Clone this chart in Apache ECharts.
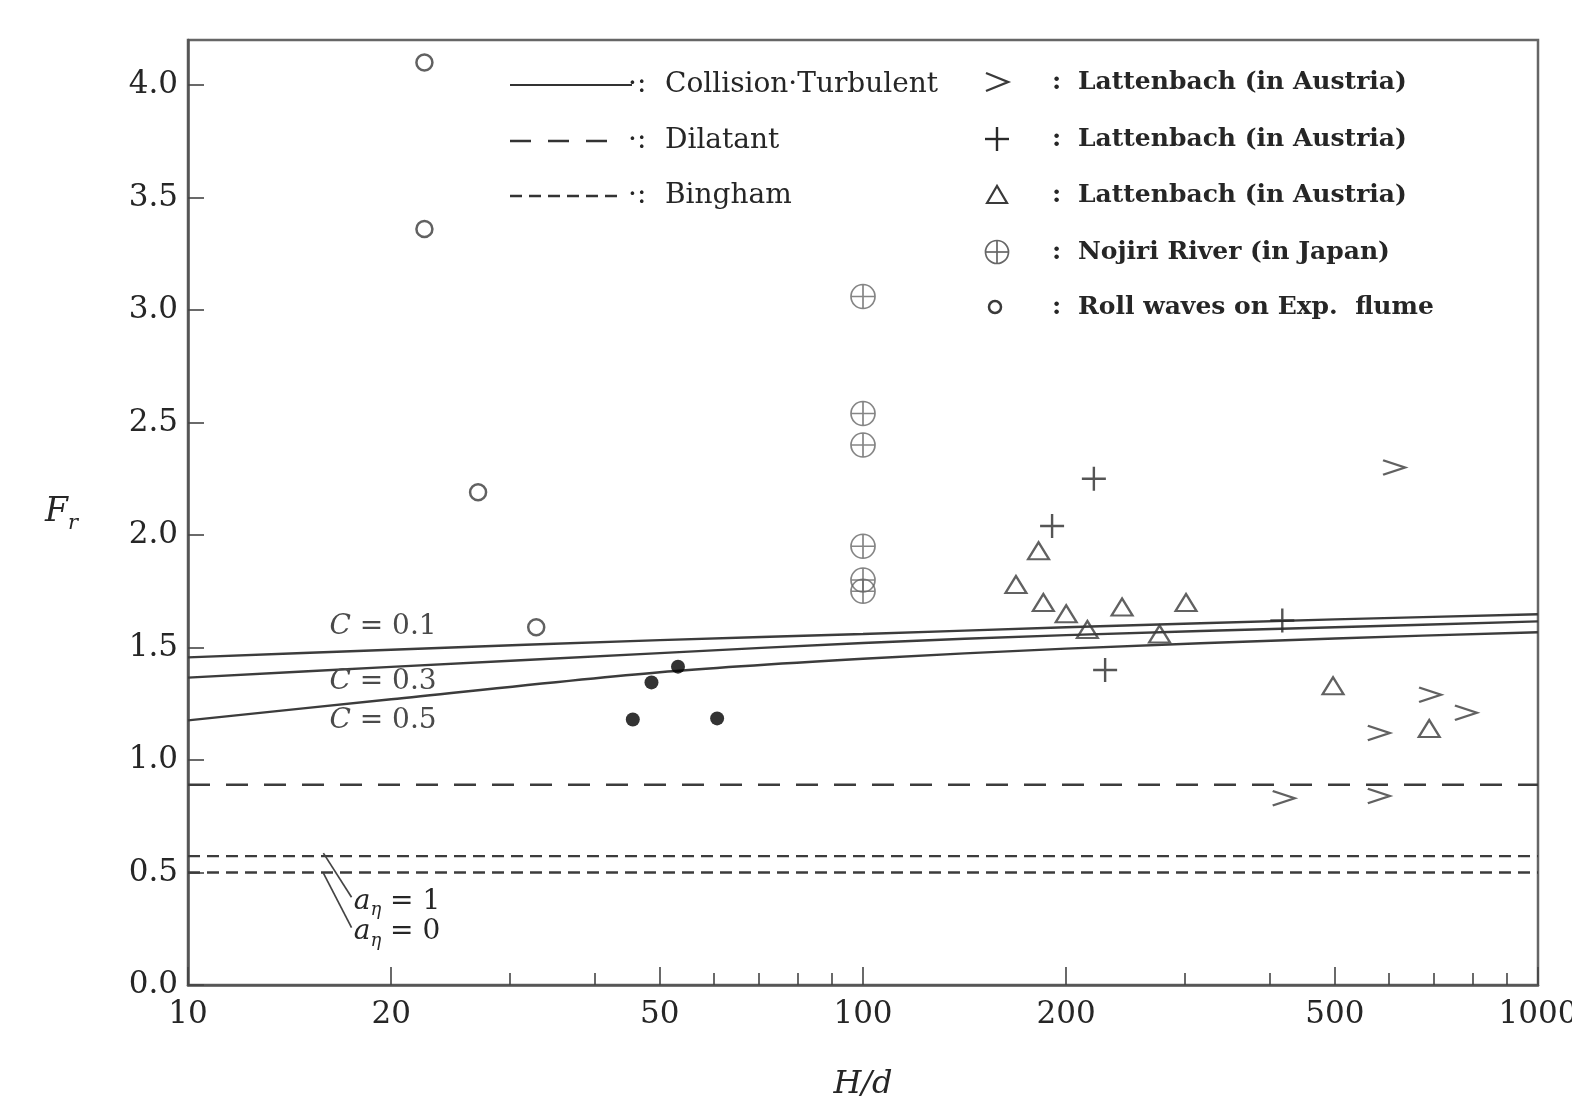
<!DOCTYPE html>
<html><head><meta charset="utf-8">
<script src="https://cdn.jsdelivr.net/npm/echarts@6/dist/echarts.min.js"></script>
<style>html,body{margin:0;padding:0;background:#fff}#c{width:1572px;height:1106px}</style>
</head><body><div id="c"></div>
<script>
// ---- data ----
const curveX = [10, 20, 50, 100, 200, 500, 1000];
const curveC01 = [1.456, 1.49, 1.533, 1.56, 1.59, 1.625, 1.648];
const curveC03 = [1.366, 1.414, 1.475, 1.52, 1.555, 1.59, 1.616];
const curveC05 = [1.176, 1.27, 1.39, 1.45, 1.495, 1.54, 1.568];
const lineX = [10, 1000];
const dilatantY = 0.89;
const binghamY1 = 0.573;   // a_eta = 1
const binghamY0 = 0.50;    // a_eta = 0

const gtX = [612, 692, 782, 581, 420, 581];
const gtY = [2.30, 1.29, 1.21, 1.12, 0.83, 0.84];
const plusX = [219.8, 190.6, 228.4, 418];
const plusY = [2.25, 2.04, 1.40, 1.62];
const triX = [182, 168.5, 185, 200, 215, 242, 275, 301, 497, 690];
const triY = [1.93, 1.78, 1.70, 1.65, 1.58, 1.68, 1.56, 1.70, 1.33, 1.14];
const nojiriX = [100, 100, 100, 100, 100, 100];
const nojiriY = [3.06, 2.54, 2.40, 1.95, 1.80, 1.75];
const rollX = [22.4, 22.4, 26.9, 32.8];
const rollY = [4.10, 3.36, 2.19, 1.59];
const dotX = [45.6, 48.6, 53.2, 60.8];
const dotY = [1.18, 1.345, 1.415, 1.185];

const xLabelTicks = [10, 20, 50, 100, 200, 500, 1000];
const xMinorTicks = [30, 40, 60, 70, 80, 90, 300, 400, 600, 700, 800, 900];
const yTicks = [0, 0.5, 1, 1.5, 2, 2.5, 3, 3.5, 4];

const legendLineNames = ['Collision·Turbulent', 'Dilatant', 'Bingham'];
const legendMarkNames = ['Lattenbach (in Austria)', 'Lattenbach (in Austria)', 'Lattenbach (in Austria)', 'Nojiri River (in Japan)', 'Roll waves on Exp.  flume'];

// ---- helpers ----
const zip = (xs, ys) => xs.map((x, i) => [x, ys[i]]);
const FONT = 'DejaVu Serif';
const INK = '#262626';
const gtPath = 'path://M0,0 L20,8 L0,16';
const plusPath = 'path://M10,0 L10,20 M0,10 L20,10';
const oplusPath = 'path://M0,10 A10,10 0 1,1 20,10 A10,10 0 1,1 0,10 Z M10,0 L10,20 M0,10 L20,10';

const grid = {left: 188, right: 34, top: 40, bottom: 121};

const chart = echarts.init(document.getElementById('c'), null, {renderer: 'canvas'});

const lineSeries = (name, data, style, extra) => Object.assign({
  type: 'line', name, data, showSymbol: false, symbol: 'none', silent: true,
  lineStyle: Object.assign({color: '#3c3c3c', width: 2.4}, style), z: 2, animation: false
}, extra || {});

const scatter = (name, data, symbol, size, item, z) => ({
  type: 'scatter', name, data, symbol, symbolSize: size, symbolKeepAspect: true,
  itemStyle: item, z: z || 5, animation: false
});
const hollow = (c, w) => ({color: 'rgba(0,0,0,0)', borderColor: c, borderWidth: w});

const option = {
  backgroundColor: '#fff',
  animation: false,
  grid: [
    Object.assign({show: true, borderColor: '#666', borderWidth: 2.5, backgroundColor: 'rgba(0,0,0,0)', outerBoundsMode: 'none'}, grid),
    Object.assign({show: false, outerBoundsMode: 'none'}, grid)
  ],
  xAxis: [{
    type: 'log', logBase: 10, min: 10, max: 1000, gridIndex: 0,
    name: 'H/d', nameLocation: 'middle', nameGap: 84,
    nameTextStyle: {fontFamily: FONT, fontStyle: 'italic', fontSize: 32, color: INK},
    axisLine: {show: true, lineStyle: {color: '#555', width: 2.5}},
    axisTick: {show: true, inside: true, length: 18, customValues: xLabelTicks, lineStyle: {color: '#444', width: 1.6}},
    axisLabel: {show: true, customValues: xLabelTicks, margin: 14, fontFamily: FONT, fontSize: 31, color: INK,
      formatter: v => String(Math.round(v))},
    splitLine: {show: false}, minorTick: {show: false}
  }, {
    type: 'log', logBase: 10, min: 10, max: 1000, gridIndex: 1,
    axisLine: {show: false},
    axisTick: {show: true, inside: true, length: 12, customValues: xMinorTicks, lineStyle: {color: '#444', width: 1.6}},
    axisLabel: {show: false},
    splitLine: {show: false}
  }],
  yAxis: [{
    type: 'value', min: 0, max: 4.2, gridIndex: 0,
    name: '{f|F}{r|r}', nameLocation: 'middle', nameGap: 110, nameRotate: 0,
    nameTextStyle: {rich: {
      f: {fontFamily: FONT, fontStyle: 'italic', fontSize: 33, color: INK, lineHeight: 44},
      r: {fontFamily: FONT, fontStyle: 'italic', fontSize: 21, color: INK, verticalAlign: 'bottom', lineHeight: 44}
    }},
    axisLine: {show: true, lineStyle: {color: '#555', width: 2.5}},
    axisTick: {show: true, inside: true, length: 16, customValues: yTicks, lineStyle: {color: '#444', width: 1.6}},
    axisLabel: {show: true, customValues: yTicks, margin: 10, fontFamily: FONT, fontSize: 31, color: INK,
      formatter: v => Number(v).toFixed(1)},
    splitLine: {show: false}
  }, {
    type: 'value', min: 0, max: 4.2, gridIndex: 1, show: false
  }],
  series: [
    lineSeries('Collision·Turbulent C=0.1', zip(curveX, curveC01), {}, {smooth: 0.3}),
    lineSeries('Collision·Turbulent C=0.3', zip(curveX, curveC03), {}, {smooth: 0.3}),
    lineSeries('Collision·Turbulent C=0.5', zip(curveX, curveC05), {}, {smooth: 0.3}),
    lineSeries('Dilatant', zip(lineX, [dilatantY, dilatantY]), {type: [22, 16], width: 2.4}),
    lineSeries('Bingham a=1', zip(lineX, [binghamY1, binghamY1]), {type: [12, 7], width: 2.4}),
    lineSeries('Bingham a=0', zip(lineX, [binghamY0, binghamY0]), {type: [12, 7], width: 2.4}),
    scatter('Lattenbach >', zip(gtX, gtY), gtPath, [22, 18], hollow('#3a3a3a', 2.4)),
    scatter('Lattenbach +', zip(plusX, plusY), plusPath, [24, 24], hollow('#2a2a2a', 2.4)),
    scatter('Lattenbach triangle', zip(triX, triY), 'triangle', [21, 17], hollow('#3a3a3a', 2.2)),
    scatter('Nojiri River', zip(nojiriX, nojiriY), oplusPath, [24, 24], hollow('#666', 1.7)),
    scatter('Roll waves', zip(rollX, rollY), 'circle', 16, hollow('#3a3a3a', 2.5)),
    scatter('Filled', zip(dotX, dotY), 'circle', 14, {color: '#000'})
  ]
};
chart.setOption(option);

// ---- annotations & legend (graphic) ----
const px = (x, y) => chart.convertToPixel({gridIndex: 0}, [x, y]);
const txt = (x, y, text, size, opts) => ({type: 'text', x, y, silent: true, z: 20,
  style: Object.assign({text, fontFamily: FONT, fontSize: size, fill: INK, verticalAlign: 'middle', align: 'left'}, opts || {})});
const seg = (x1, y1, x2, y2, extra) => ({type: 'line', silent: true, z: 20,
  shape: {x1, y1, x2, y2}, style: Object.assign({stroke: '#333', lineWidth: 2}, extra || {})});

const g = [];
// C labels
[['0.1', 1.593], ['0.3', 1.349], ['0.5', 1.176]].forEach(([v, y]) => {
  const p = px(16.2, y);
  g.push({type: 'text', x: p[0], y: p[1], silent: true, z: 20, style: {
    text: '{i|C} = ' + v, fontFamily: FONT, fontSize: 28, fill: '#4a4a4a', verticalAlign: 'middle',
    rich: {i: {fontFamily: FONT, fontStyle: 'italic', fontSize: 28, fill: '#4a4a4a'}}
  }});
});
// a_eta leader lines and labels
const l1a = px(15.87, 0.586), l1b = px(17.47, 0.39);
const l2a = px(15.87, 0.497), l2b = px(17.47, 0.255);
g.push(seg(l1a[0], l1a[1], l1b[0], l1b[1], {stroke: '#444', lineWidth: 1.7}));
g.push(seg(l2a[0], l2a[1], l2b[0], l2b[1], {stroke: '#444', lineWidth: 1.7}));
[['1', 0.37], ['0', 0.235]].forEach(([v, y]) => {
  const p = px(17.6, y);
  g.push({type: 'text', x: p[0], y: p[1], silent: true, z: 20, style: {
    text: '{a|a}{e|η}{n| = ' + v + '}', fontFamily: FONT, fontSize: 28, fill: INK, verticalAlign: 'middle',
    rich: {
      a: {fontFamily: FONT, fontStyle: 'italic', fontSize: 28, fill: INK, lineHeight: 36},
      e: {fontFamily: FONT, fontStyle: 'italic', fontSize: 18, fill: INK, verticalAlign: 'bottom', lineHeight: 36},
      n: {fontFamily: FONT, fontSize: 28, fill: INK, lineHeight: 36}
    }
  }});
});

// left legend (line styles)
const legY = [85, 141, 196];
g.push(seg(510, legY[0], 632, legY[0], {stroke: '#333', lineWidth: 2.2}));
g.push(seg(510, legY[1], 612, legY[1], {stroke: '#333', lineWidth: 2.4, lineDash: [21, 17]}));
g.push(seg(510, legY[2], 622, legY[2], {stroke: '#333', lineWidth: 2.4, lineDash: [12, 7]}));
legendLineNames.forEach((n, i) => {
  g.push(txt(628, legY[i], '·:', 28));
  g.push(txt(665, legY[i], n, 28));
});

// right legend (markers)
const rY = [82, 139, 195, 252, 307];
const sx = 997;
g.push({type: 'polyline', silent: true, z: 20, shape: {points: [[sx - 11, rY[0] - 9], [sx + 11, rY[0]], [sx - 11, rY[0] + 9]]}, style: {stroke: '#3a3a3a', lineWidth: 2.4, fill: null}});
g.push(seg(sx, rY[1] - 12, sx, rY[1] + 12, {stroke: '#2a2a2a', lineWidth: 2.4}));
g.push(seg(sx - 12, rY[1], sx + 12, rY[1], {stroke: '#2a2a2a', lineWidth: 2.4}));
g.push({type: 'polygon', silent: true, z: 20, shape: {points: [[sx - 10, rY[2] + 8], [sx, rY[2] - 9], [sx + 10, rY[2] + 8]]}, style: {stroke: '#3a3a3a', lineWidth: 2.2, fill: null}});
g.push({type: 'circle', silent: true, z: 20, shape: {cx: sx, cy: rY[3], r: 11.5}, style: {stroke: '#666', lineWidth: 1.7, fill: null}});
g.push(seg(sx, rY[3] - 11.5, sx, rY[3] + 11.5, {stroke: '#666', lineWidth: 1.7}));
g.push(seg(sx - 11.5, rY[3], sx + 11.5, rY[3], {stroke: '#666', lineWidth: 1.7}));
g.push({type: 'circle', silent: true, z: 20, shape: {cx: sx - 2, cy: rY[4], r: 6}, style: {stroke: '#3a3a3a', lineWidth: 2.5, fill: null}});
legendMarkNames.forEach((n, i) => {
  g.push(txt(1052, rY[i], ':', 25, {fontWeight: 'bold'}));
  g.push(txt(1078, rY[i], n, 25, {fontWeight: 'bold'}));
});

chart.setOption({graphic: {elements: g}});
</script>
</body></html>
